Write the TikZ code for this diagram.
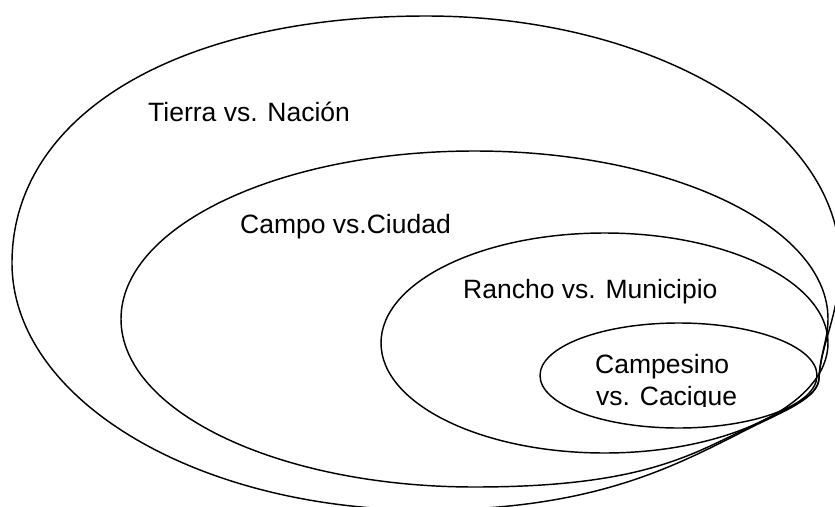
\documentclass[tikz,border=0pt]{standalone}
\usepackage{fontspec}
\setmainfont{Liberation Sans}
\begin{document}
\begin{tikzpicture}[x=1pt,y=-1pt,
  ring/.style={draw=black,line width=1.45pt},
  lbl/.style={inner sep=0pt,anchor=base west,font=\fontsize{26.5}{32}\selectfont}]
\useasboundingbox (0,0) rectangle (835,506);
\clip (0,0) rectangle (835,506);
% outer ring: Tierra vs. Nacion
\draw[ring] (12,263)
  .. controls (12,114.8) and (177.6,16) .. (426,16)
  .. controls (654.6,16) and (840,126.6) .. (840,263)
  .. controls (840,313) and (821,343) .. (819,378)
  .. controls (819,398) and (782,412) .. (752,427)
  .. controls (680,463) and (600,510) .. (426,510)
  .. controls (197.4,510) and (12,399.4) .. (12,263) -- cycle;
% second ring: Campo vs. Ciudad
\draw[ring] (121,319)
  .. controls (121,226.2) and (279.3,151) .. (474.5,151)
  .. controls (669.7,151) and (828,226.2) .. (828,319)
  .. controls (828,340) and (820.5,352) .. (819,378)
  .. controls (819,398) and (782,411) .. (752,426)
  .. controls (692,454) and (644.5,487) .. (474.5,487)
  .. controls (279.3,487) and (121,411.8) .. (121,319) -- cycle;
% third ring: Rancho vs. Municipio
\draw[ring] (604.5,343) ellipse [x radius=223.5, y radius=110];
% inner ring: Campesino vs. Cacique
\draw[ring] (678.5,375.5) ellipse [x radius=138.5, y radius=52.5];
\node[lbl] (tierra) at (148,121) {Tierra vs. Nación};
\node[lbl] (campo) at (240,233) {Campo vs.Ciudad};
\node[lbl] (rancho) at (463,298) {Rancho vs. Municipio};
\node[lbl] (campesino) at (595,373) {Campesino};
\begin{scope}
\clip (540,380) rectangle (820,406);
\node[lbl] (cacique) at (596,405) {vs. Cacique};
\end{scope}
\end{tikzpicture}
\end{document}
